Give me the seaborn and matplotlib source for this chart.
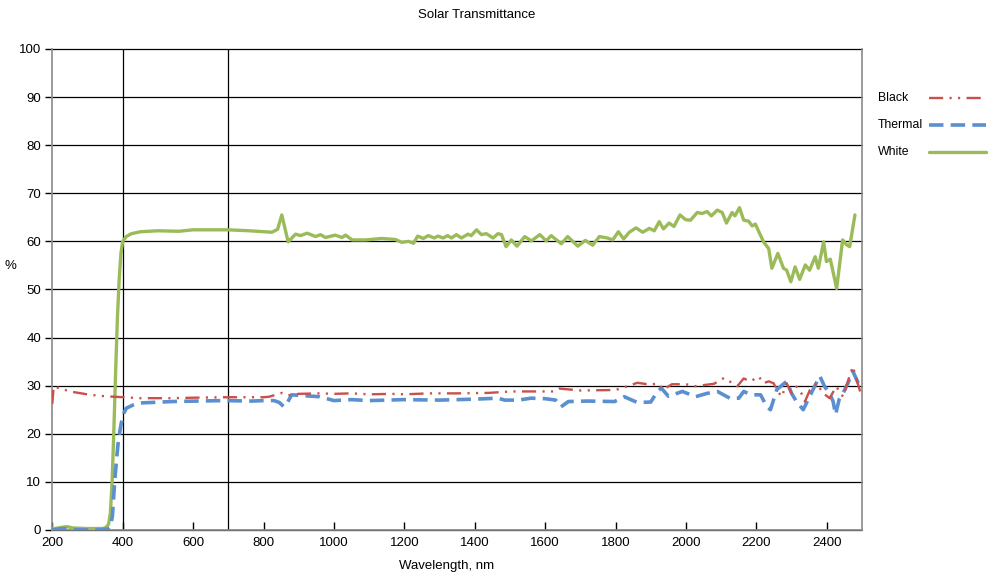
import matplotlib
matplotlib.use("Agg")
import matplotlib.pyplot as plt
from matplotlib.lines import Line2D
import seaborn as sns
import pandas as pd

# ---- data -----------------------------------------------------------------
white_nm = [200, 215, 241, 260, 300, 343, 352, 360, 365, 370, 375, 380, 385, 390, 395,
            400, 410, 425, 450, 500, 560, 600, 700, 760, 800, 824, 840, 852, 870, 891,
            905, 924, 948, 962, 976, 1004, 1023, 1033, 1052, 1090, 1136, 1174, 1193,
            1212, 1226, 1238, 1254, 1268, 1285, 1296, 1310, 1323, 1334, 1348, 1362,
            1381, 1390, 1405, 1419, 1433, 1452, 1466, 1476, 1489, 1504, 1520, 1542,
            1561, 1585, 1603, 1617, 1646, 1664, 1693, 1714, 1735, 1754, 1777, 1792,
            1808, 1823, 1839, 1858, 1877, 1896, 1910, 1924, 1936, 1952, 1966, 1983,
            1999, 2013, 2032, 2046, 2060, 2072, 2089, 2103, 2115, 2131, 2139, 2152,
            2164, 2178, 2188, 2197, 2221, 2235, 2244, 2261, 2277, 2286, 2298, 2310,
            2323, 2339, 2351, 2367, 2376, 2391, 2399, 2410, 2428, 2445, 2456, 2465, 2480]
white_pct = [0.2, 0.4, 0.7, 0.4, 0.3, 0.3, 0.5, 1.2, 3.5, 10, 21, 33, 44, 52, 57.5,
             60, 61, 61.6, 62, 62.2, 62.1, 62.4, 62.4, 62.2, 62.0, 61.9, 62.5, 65.5, 59.9, 61.5,
             61.2, 61.7, 61.0, 61.4, 60.8, 61.3, 60.8, 61.3, 60.3, 60.3, 60.6, 60.4, 59.8,
             60.0, 59.6, 61.1, 60.6, 61.2, 60.7, 61.1, 60.7, 61.2, 60.7, 61.4, 60.7,
             61.5, 61.2, 62.4, 61.4, 61.6, 60.7, 61.6, 61.4, 58.9, 60.3, 59.0, 61.0,
             60.1, 61.4, 60.1, 61.2, 59.5, 61.0, 59.0, 60.2, 59.2, 61.0, 60.7, 60.3,
             62.0, 60.5, 61.9, 62.8, 61.9, 62.7, 62.2, 64.1, 62.6, 63.8, 63.1, 65.5,
             64.5, 64.4, 66.0, 65.8, 66.2, 65.3, 66.5, 66.0, 63.8, 66.0, 65.3, 67.0,
             64.4, 64.2, 63.2, 63.6, 59.8, 58.5, 54.4, 57.5, 54.4, 54.0, 51.6, 54.7,
             52.1, 55.1, 54.0, 56.8, 54.4, 59.9, 55.8, 56.3, 50.2, 60.3, 59.3, 58.9, 65.5]

black_nm = [200, 204, 220, 250, 307, 350, 401, 450, 541, 600, 700, 800, 816, 853, 870,
            900, 957, 1000, 1051, 1100, 1165, 1200, 1270, 1350, 1440, 1503, 1550, 1626,
            1640, 1700, 1800, 1834, 1862, 1900, 1919, 1936, 1960, 2000, 2027, 2080, 2108,
            2146, 2164, 2183, 2207, 2220, 2235, 2249, 2258, 2272, 2286, 2300, 2314, 2328,
            2338, 2352, 2371, 2390, 2408, 2427, 2446, 2460, 2474, 2485, 2496]
black_pct = [26.2, 29.8, 29.5, 28.8, 28.1, 27.8, 27.6, 27.4, 27.4, 27.5, 27.6, 27.6, 27.7,
             28.5, 28.0, 28.3, 28.4, 28.3, 28.4, 28.2, 28.3, 28.2, 28.4, 28.4, 28.5, 28.8,
             28.8, 28.8, 29.4, 29.0, 29.1, 29.9, 30.6, 30.2, 30.5, 29.2, 30.3, 30.3, 29.9,
             30.4, 31.6, 29.9, 31.5, 30.9, 31.9, 30.5, 30.9, 30.5, 29.1, 27.7, 30.5, 28.4,
             29.8, 28.4, 26.7, 29.1, 30.5, 28.4, 27.4, 29.8, 27.7, 30.9, 34.0, 31.2, 28.5]

thermal_nm = [200, 230, 260, 300, 340, 358, 365, 371, 377, 383, 387, 392, 396, 403, 410,
              430, 448, 541, 683, 768, 800, 830, 845, 858, 868, 880, 920, 960, 1000, 1050,
              1100, 1200, 1300, 1400, 1466, 1485, 1525, 1560, 1600, 1630, 1645, 1666, 1720,
              1797, 1825, 1862, 1900, 1919, 1930, 1950, 1990, 2027, 2060, 2089, 2127, 2150,
              2164, 2185, 2212, 2230, 2240, 2258, 2286, 2300, 2314, 2333, 2347, 2361, 2380,
              2394, 2408, 2418, 2425, 2435, 2446, 2460, 2474, 2485, 2496]
thermal_pct = [0.0, 0.3, 0.1, 0.0, 0.1, 0.2, 0.6, 3, 9.8, 15, 18, 20.5, 22.2, 24.2, 25.3,
               26.0, 26.4, 26.7, 26.9, 26.8, 26.9, 26.9, 26.5, 25.6, 26.5, 28.1, 27.9, 27.7,
               26.9, 27.1, 26.9, 27.1, 27.0, 27.2, 27.4, 27.0, 27.0, 27.4, 27.3, 27.0, 25.6,
               26.7, 26.8, 26.7, 27.7, 26.5, 26.6, 28.8, 29.5, 27.8, 28.8, 27.7, 28.4, 28.8,
               27.3, 27.4, 28.8, 28.1, 28.1, 25.6, 25.0, 29.2, 30.9, 28.4, 26.7, 25.0, 27.1,
               29.2, 32.0, 29.8, 28.4, 26.7, 24.0, 27.1, 28.4, 30.5, 33.0, 31.2, 29.6]

series_names = ["Black", "Thermal", "White"]
y_ticks = list(range(0, 101, 10))
x_ticks = list(range(200, 2401, 200))
marker_lines_nm = [400, 700]

# ---- style ------------------------------------------------------------------
sns.set_theme(style="white")
plt.rcParams["font.family"] = ["Liberation Sans", "DejaVu Sans"]

RED = "#c9504b"
BLUE = "#5a8fd0"
GREEN = "#9bbb59"
FRAME = "#8a8a8a"
FS = 9.5
KEY_FS = 8.8

W, H = 990, 576
fig = plt.figure(figsize=(W / 100, H / 100), dpi=100)
ax = fig.add_axes([0.0528, 0.0799, 0.8179, 0.8351])

frames = {
    "Black": pd.DataFrame({"nm": black_nm, "pct": black_pct}),
    "Thermal": pd.DataFrame({"nm": thermal_nm, "pct": thermal_pct}),
    "White": pd.DataFrame({"nm": white_nm, "pct": white_pct}),
}
styles = {
    "Black": dict(color=RED, lw=1.7, ls=(0, (6, 2.7, 0.9, 2.7, 0.9, 2.7))),
    "Thermal": dict(color=BLUE, lw=2.6, ls=(0, (4, 2))),
    "White": dict(color=GREEN, lw=2.4, ls="-"),
}

# horizontal grid and the two reference wavelengths
for v in y_ticks:
    ax.axhline(v, color="black", lw=0.9, zorder=1, clip_on=False)
for v in marker_lines_nm:
    ax.axvline(v, color="black", lw=0.9, zorder=1)

for name in ["White", "Thermal", "Black"]:
    st = styles[name]
    sns.lineplot(data=frames[name], x="nm", y="pct", ax=ax, color=st["color"],
                 lw=st["lw"], errorbar=None, zorder=3)
    line = ax.lines[-1]
    line.set_linestyle(st["ls"])
    line.set_solid_capstyle("round")
    line.set_dash_capstyle("butt")

ax.set_xlim(200, 2500)
ax.set_ylim(0, 100)
ax.set_xticks(x_ticks)
ax.set_yticks(y_ticks)
ax.set_xticklabels([str(t) for t in x_ticks], fontsize=FS)
ax.set_yticklabels([str(t) for t in y_ticks], fontsize=FS)
ax.tick_params(axis="x", direction="in", length=6, width=1, color="black", pad=5,
               bottom=True, labelcolor="black")
ax.tick_params(axis="y", direction="out", length=5, width=1, color="black", pad=3,
               left=True, labelcolor="black")
ax.set_xlabel("")
ax.set_ylabel("")
for side in ["left", "right", "bottom"]:
    ax.spines[side].set_visible(True)
    ax.spines[side].set_color(FRAME)
    ax.spines[side].set_linewidth(1.2)
ax.spines["top"].set_visible(False)
ax.grid(False)

fig.text(477 / W, 1 - 15 / H, "Solar Transmittance", ha="center", va="center",
         fontsize=FS, color="black")
fig.text(447 / W, 1 - 566 / H, "Wavelength, nm", ha="center", va="center",
         fontsize=FS, color="black")
fig.text(10 / W, 1 - 266 / H, "%", ha="center", va="center", fontsize=FS,
         color="black")

# key on the right: label first, left-aligned, with a common sample column
for i, name in enumerate(series_names):
    st = styles[name]
    y = 1 - (98 + 27 * i) / H
    fig.text(878 / W, y, name, ha="left", va="center", fontsize=KEY_FS, color="black")
    fig.add_artist(Line2D([929 / W, 986 / W], [y, y], transform=fig.transFigure,
                          color=st["color"], lw=st["lw"], ls=st["ls"]))

fig.savefig("out.png", dpi=100, facecolor="white")
